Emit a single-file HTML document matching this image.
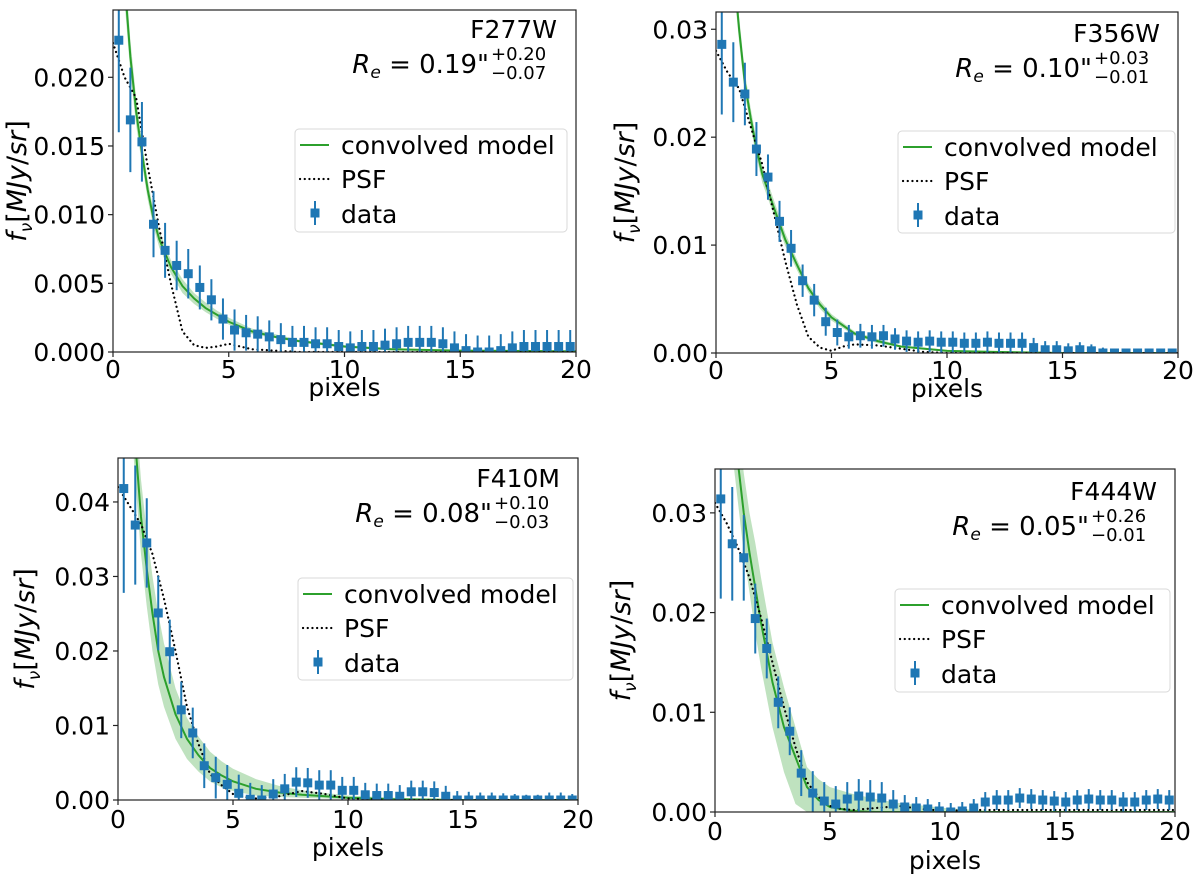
<!DOCTYPE html>
<html><head><meta charset="utf-8"><style>
body{margin:0;background:#fff;}
svg text{font-family:"DejaVu Sans","Liberation Sans",sans-serif;fill:#000;}
</style></head><body>
<svg id="fig" width="1200" height="882" viewBox="0 0 1200 882" xmlns="http://www.w3.org/2000/svg"></svg>
<script>
const pixelBins=[0.25,0.75,1.25,1.75,2.25,2.75,3.25,3.75,4.25,4.75,5.25,5.75,6.25,6.75,7.25,7.75,8.25,8.75,9.25,9.75,10.25,10.75,11.25,11.75,12.25,12.75,13.25,13.75,14.25,14.75,15.25,15.75,16.25,16.75,17.25,17.75,18.25,18.75,19.25,19.75];
const f277Data=[0.0227,0.0169,0.0153,0.0093,0.0074,0.0063,0.0057,0.0047,0.0038,0.0024,0.0016,0.0014,0.0013,0.0011,0.0009,0.0007,0.0007,0.0006,0.0006,0.0004,0.0003,0.0004,0.0004,0.0005,0.0006,0.0007,0.0007,0.0007,0.0006,0.0003,0.0001,0,0,0.0001,0.0003,0.0004,0.0004,0.0004,0.0004,0.0004];
const f277Err=[0.0067,0.0038,0.0029,0.0024,0.002,0.0018,0.0018,0.0016,0.0015,0.0015,0.0015,0.0013,0.0013,0.0012,0.0012,0.0012,0.0012,0.0012,0.0012,0.0012,0.0012,0.0012,0.0012,0.0012,0.0012,0.0012,0.0012,0.0012,0.0012,0.0012,0.0012,0.0012,0.0012,0.0012,0.0012,0.0012,0.0012,0.0012,0.0012,0.0012];
const f356Data=[0.0286,0.0251,0.024,0.0189,0.0163,0.0122,0.0097,0.0067,0.0049,0.0029,0.0019,0.0015,0.0016,0.0015,0.0016,0.0013,0.0011,0.001,0.0011,0.001,0.001,0.0009,0.0009,0.001,0.0009,0.0009,0.0009,0.0005,0.0003,0.0003,0.0002,0.0003,0.0002,0,0,0,0,0,0,0];
const f356Err=[0.0065,0.0037,0.0029,0.0025,0.0021,0.0019,0.0017,0.0015,0.0015,0.0013,0.0012,0.0011,0.0011,0.0011,0.001,0.001,0.001,0.001,0.001,0.001,0.001,0.001,0.001,0.001,0.001,0.001,0.001,0.0009,0.0008,0.0008,0.0007,0.0007,0.0006,0.0005,0,0,0,0,0,0];
const f410Data=[0.0418,0.0369,0.0345,0.0251,0.0199,0.0121,0.009,0.0046,0.003,0.0021,0.0009,0.0001,0,0.0008,0.0015,0.0024,0.0023,0.002,0.002,0.0013,0.0013,0.0007,0.0006,0.0006,0.0005,0.0011,0.0011,0.001,0.0005,0,0,0,0,0,0,0,0,0,0,0];
const f410Err=[0.014,0.008,0.006,0.005,0.0043,0.0038,0.0034,0.003,0.0028,0.0026,0.0025,0.0022,0.002,0.002,0.002,0.002,0.002,0.002,0.002,0.0018,0.0018,0.0016,0.0016,0.0016,0.0015,0.0015,0.0015,0.0015,0.0014,0.0012,0.0011,0.001,0.001,0.0009,0.0008,0.0007,0.0007,0.001,0.001,0.0008];
const f444Data=[0.0314,0.0269,0.0255,0.0194,0.0164,0.011,0.0081,0.0039,0.0019,0.0011,0.0008,0.0013,0.0016,0.0015,0.0014,0.0008,0.0005,0.0004,0.0003,0.0001,0,0.0001,0.0004,0.001,0.0012,0.0012,0.0014,0.0013,0.0012,0.0011,0.001,0.0012,0.0013,0.0012,0.0012,0.001,0.001,0.0012,0.0013,0.0012];
const f444Err=[0.01,0.0057,0.0043,0.0035,0.003,0.0026,0.0024,0.0023,0.0022,0.0019,0.0018,0.0017,0.0017,0.0017,0.0016,0.0014,0.0012,0.0011,0.0010,0.0009,0.0009,0.0009,0.0009,0.001,0.001,0.001,0.001,0.001,0.001,0.001,0.001,0.001,0.001,0.001,0.001,0.001,0.001,0.001,0.001,0.001];

const modelX=[0.3,0.5,0.75,1,1.25,1.5,1.75,2,2.5,3,3.5,4,4.5,5,6,7,8,10,12,15,20];
const f277Model=[0.034,0.027,0.0215,0.0175,0.0145,0.0118,0.0097,0.0082,0.0062,0.0048,0.0039,0.0032,0.0027,0.0022,0.0015,0.0011,0.0008,0.0004,0.0002,0.0001,0.00005];
const f277Lo=[0.032,0.0255,0.0203,0.0165,0.0137,0.0111,0.0091,0.0076,0.0057,0.0043,0.0035,0.0029,0.0024,0.002,0.0013,0.001,0.0007,0.0003,0.0002,0.0001,0.00003];
const f277Hi=[0.036,0.0285,0.0227,0.0185,0.0153,0.0125,0.0103,0.0088,0.0067,0.0053,0.0043,0.0036,0.003,0.0025,0.0017,0.0013,0.0009,0.0005,0.0003,0.0001,0.00007];
const f356Model=[0.048,0.042,0.036,0.03,0.025,0.0218,0.019,0.0166,0.0135,0.0105,0.0082,0.006,0.0045,0.0033,0.0018,0.0011,0.0006,0.0002,0.0001,0,0];
const f356Lo=[0.046,0.04,0.0345,0.0288,0.024,0.0209,0.0182,0.0158,0.0128,0.0099,0.0077,0.0056,0.0041,0.003,0.0016,0.0009,0.0005,0.0002,0.0001,0,0];
const f356Hi=[0.05,0.044,0.0375,0.0312,0.026,0.0227,0.0198,0.0174,0.0142,0.0111,0.0087,0.0064,0.0049,0.0036,0.002,0.0013,0.0007,0.0003,0.0001,0,0];
const f410Model=[0.07,0.06,0.048,0.038,0.031,0.025,0.02,0.0165,0.0115,0.0082,0.006,0.0043,0.0033,0.0025,0.0015,0.001,0.0007,0.0003,0.0001,0,0];
const f410Lo=[0.064,0.054,0.043,0.033,0.026,0.02,0.0155,0.0125,0.0082,0.0055,0.0038,0.0025,0.0017,0.0012,0.0006,0.0004,0.0003,0.0001,0,0,0];
const f410Hi=[0.076,0.066,0.053,0.043,0.036,0.03,0.025,0.021,0.015,0.011,0.0085,0.0065,0.0052,0.0042,0.0028,0.0019,0.0013,0.0006,0.0003,0.0001,0];
const f444Model=[0.05,0.045,0.04,0.035,0.03,0.026,0.0225,0.019,0.013,0.0085,0.0055,0.0025,0.0012,0.0005,0.0001,0,0,0,0,0,0];
const f444Lo=[0.046,0.041,0.036,0.031,0.026,0.022,0.018,0.0145,0.0085,0.004,0.0008,0,0,0,0,0,0,0,0,0,0];
const f444Hi=[0.054,0.049,0.044,0.039,0.034,0.03,0.027,0.0235,0.017,0.0125,0.0085,0.0045,0.0033,0.0025,0.0018,0.0013,0.0009,0.0004,0.0001,0,0];

const psfX=[0,0.5,1,1.5,2,2.5,3,3.5,4,4.5,5,5.5,6,7,8,9,10,11,12,15,20];
const f277Psf=[0.0225,0.02,0.0185,0.0135,0.009,0.005,0.0015,0.0005,0.0003,0.0004,0.0006,0.0004,0.0002,0.0001,0,0,0,0,0,0,0];
const f356Psf=[0.028,0.026,0.0245,0.021,0.0175,0.013,0.0085,0.0045,0.0015,0.0005,0.0002,0.0006,0.0008,0.0007,0.0004,0.0001,0,0,0,0,0];
const f410Psf=[0.042,0.0395,0.037,0.033,0.027,0.02,0.0125,0.0075,0.0035,0.002,0.0008,0.0004,0.0002,0.0005,0.0012,0.0008,0.0002,0.0001,0,0,0];
const f444Psf=[0.031,0.029,0.0265,0.0235,0.0195,0.015,0.0105,0.0065,0.003,0.0015,0.0006,0.0003,0.0002,0.0004,0.0006,0.0003,0.0001,0.0002,0.0002,0.0002,0.0002];

const p1Ticks=["0.000","0.005","0.010","0.015","0.020"];
const p1TickVals=[0,0.005,0.01,0.015,0.02];
const p2Ticks=["0.00","0.01","0.02","0.03"];
const p2TickVals=[0,0.01,0.02,0.03];
const p3Ticks=["0.00","0.01","0.02","0.03","0.04"];
const p3TickVals=[0,0.01,0.02,0.03,0.04];
const p4Ticks=["0.00","0.01","0.02","0.03"];
const p4TickVals=[0,0.01,0.02,0.03];
const xTickVals=[0,5,10,15,20];
const xTicks=["0","5","10","15","20"];

const NS="http://www.w3.org/2000/svg";
const svg=document.getElementById('fig');
function mk(tag,attrs,parent){const e=document.createElementNS(NS,tag);for(const k in attrs)e.setAttribute(k,attrs[k]);(parent||svg).appendChild(e);return e;}

const panels=[
 {id:'f277w',band:'F277W',re:'0.19',up:'+0.20',lo:'−0.07',L:113,R:576,T:10,B:352,ymax:0.0249,data:f277Data,err:f277Err,mod:f277Model,mlo:f277Lo,mhi:f277Hi,psf:f277Psf,ticks:p1Ticks,tv:p1TickVals,leg:[295,129,272,103],tx:557,ty:38,tk:378,xl:396,ylx:26},
 {id:'f356w',band:'F356W',re:'0.10',up:'+0.03',lo:'−0.01',L:716,R:1178,T:12,B:353,ymax:0.0316,data:f356Data,err:f356Err,mod:f356Model,mlo:f356Lo,mhi:f356Hi,psf:f356Psf,ticks:p2Ticks,tv:p2TickVals,leg:[898,131,277,102],tx:1160,ty:42,tk:379,xl:397,ylx:634},
 {id:'f410m',band:'F410M',re:'0.08',up:'+0.10',lo:'−0.03',L:118,R:578,T:458,B:800,ymax:0.0459,data:f410Data,err:f410Err,mod:f410Model,mlo:f410Lo,mhi:f410Hi,psf:f410Psf,ticks:p3Ticks,tv:p3TickVals,leg:[298,578,275,102],tx:560,ty:487,tk:828,xl:856,ylx:34},
 {id:'f444w',band:'F444W',re:'0.05',up:'+0.26',lo:'−0.01',L:715,R:1175,T:469,B:812,ymax:0.0344,data:f444Data,err:f444Err,mod:f444Model,mlo:f444Lo,mhi:f444Hi,psf:f444Psf,ticks:p4Ticks,tv:p4TickVals,leg:[895,589,275,103],tx:1157,ty:500,tk:840,xl:869,ylx:630}
];

panels.forEach(p=>{
 const g=mk('g',{});
 
 
 const sx=v=>p.L+(v/20)*(p.R-p.L);
 const sy=v=>p.B-(v/p.ymax)*(p.B-p.T);
 const cid='clip-'+p.id;
 const cp=mk('clipPath',{id:cid},g);mk('rect',{x:p.L,y:p.T,width:p.R-p.L,height:p.B-p.T},cp);
 const plot=mk('g',{'clip-path':'url(#'+cid+')'},g);
 let d='';modelX.forEach((x,i)=>{d+=(i?'L':'M')+sx(x)+','+sy(p.mhi[i]);});
 for(let i=modelX.length-1;i>=0;i--)d+='L'+sx(modelX[i])+','+sy(p.mlo[i]);
 const band=mk('path',{d:d+'Z',fill:'#2ca02c','fill-opacity':0.3,stroke:'none'},plot);
 
 
 const ml=mk('polyline',{points:modelX.map((x,i)=>sx(x)+','+sy(p.mod[i])).join(' '),fill:'none',stroke:'#2ca02c','stroke-width':2},plot);
 
 
 const pl=mk('polyline',{points:psfX.map((x,i)=>sx(x)+','+sy(p.psf[i])).join(' '),fill:'none',stroke:'#000','stroke-width':2.2,'stroke-dasharray':'0.1,4.6','stroke-linecap':'round'},plot);
 
 
 pixelBins.forEach((x,i)=>{
  const v=p.data[i],e=p.err[i];
  const eb=mk('line',{x1:sx(x),x2:sx(x),y1:sy(v+e),y2:sy(v-e),stroke:'#1f77b4','stroke-width':2},plot);
  
  
  const m=mk('rect',{x:sx(x)-4.5,y:sy(v)-4.5,width:9,height:9,fill:'#1f77b4'},plot);
  
  
 });
 mk('rect',{x:p.L,y:p.T,width:p.R-p.L,height:p.B-p.T,fill:'none',stroke:'#222','stroke-width':1.2},g);
 p.tv.forEach((v,i)=>{
  mk('line',{x1:p.L-5,x2:p.L,y1:sy(v),y2:sy(v),stroke:'#222','stroke-width':1.2},g);
  const t=mk('text',{x:p.L-8,y:sy(v)+9,'text-anchor':'end','font-size':25},g);t.textContent=p.ticks[i];
  
  
 });
 xTickVals.forEach((v,i)=>{
  mk('line',{x1:sx(v),x2:sx(v),y1:p.B,y2:p.B+5,stroke:'#222','stroke-width':1.2},g);
  const t=mk('text',{x:sx(v),y:p.tk,'text-anchor':'middle','font-size':25},g);t.textContent=xTicks[i];
  
  
 });
 const xl=mk('text',{x:(p.L+p.R)/2,y:p.xl,'text-anchor':'middle','font-size':25},g);xl.textContent='pixels';
 
 
 const cy=(p.T+p.B)/2;
 const yl=mk('text',{x:p.ylx,y:cy,'text-anchor':'middle','font-size':27,transform:'rotate(-90 '+p.ylx+' '+cy+')'},g);
 yl.innerHTML='<tspan font-style="italic">f</tspan><tspan font-size="17" dy="6" font-style="italic">ν</tspan><tspan dy="-6">[</tspan><tspan font-style="italic">MJy</tspan>/<tspan font-style="italic">sr</tspan>]';
 
 
 const bt=mk('text',{x:p.tx,y:p.ty,'text-anchor':'end','font-size':25},g);bt.textContent=p.band;
 
 
 const rt=mk('text',{x:p.tx-68,y:p.ty+35,'text-anchor':'end','font-size':26},g);
 rt.innerHTML='<tspan font-style="italic">R</tspan><tspan font-size="17" dy="5" font-style="italic">e</tspan><tspan dy="-5"> = '+p.re+'"</tspan>';
 
 
 const ut=mk('text',{x:p.tx-66,y:p.ty+22,'font-size':18},g);ut.textContent=p.up;
 const lt=mk('text',{x:p.tx-66,y:p.ty+41,'font-size':18},g);lt.textContent=p.lo;
 const [lx,ly,lw,lh]=p.leg;
 const lg=mk('g',{},g);
 
 
 mk('rect',{x:lx,y:ly,width:lw,height:lh,rx:4,fill:'#fff','fill-opacity':0.85,stroke:'#d8d8d8','stroke-width':1},lg);
 mk('line',{x1:lx+5,x2:lx+34,y1:ly+16,y2:ly+16,stroke:'#2ca02c','stroke-width':2},lg);
 mk('line',{x1:lx+5,x2:lx+34,y1:ly+50,y2:ly+50,stroke:'#000','stroke-width':2.2,'stroke-dasharray':'0.1,4.6','stroke-linecap':'round'},lg);
 mk('line',{x1:lx+20,x2:lx+20,y1:ly+72,y2:ly+96,stroke:'#1f77b4','stroke-width':2},lg);
 mk('rect',{x:lx+15.5,y:ly+79.5,width:9,height:9,fill:'#1f77b4'},lg);
 [['convolved model',25],['PSF',59],['data',94]].forEach(([s,dy])=>{
  const t=mk('text',{x:lx+46,y:ly+dy,'font-size':25},lg);t.textContent=s;
  
  
 });
});
</script>
</body></html>
